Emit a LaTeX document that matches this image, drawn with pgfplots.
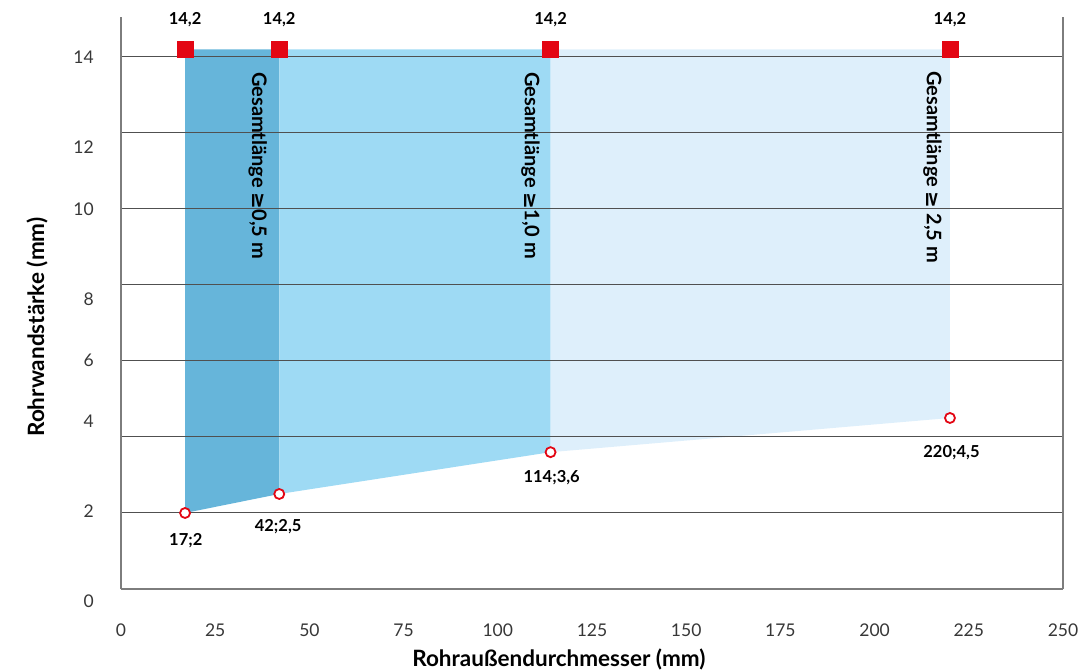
\documentclass[border=0pt]{standalone}
\usepackage{fontspec}
\setmainfont{Lato}
\newfontfamily\symfont{DejaVu Sans}
\usepackage{pgfplots}
\pgfplotsset{compat=1.18}

\definecolor{cdark}{RGB}{102,181,218}
\definecolor{cmid}{RGB}{158,218,244}
\definecolor{clight}{RGB}{222,239,251}
\definecolor{cred}{RGB}{227,6,19}
\definecolor{cgrid}{RGB}{80,80,80}
\definecolor{caxis}{RGB}{125,125,125}
\definecolor{ctick}{RGB}{55,55,55}

\begin{document}
\begin{tikzpicture}[
    lab/.style={font=\bfseries\fontsize{16.5}{18}\selectfont, inner sep=0pt},
    ylab/.style={font=\fontsize{17.5}{19}\selectfont, text=ctick, anchor=east, inner sep=0pt, xshift=-27pt},
    vlab/.style={rotate=-90, anchor=north west, inner sep=0pt, font=\bfseries\fontsize{20}{22}\selectfont},
]
\begin{axis}[
    name=ax, set layers, clip=false,
    scale only axis, width=942pt, height=572pt,
    xmin=0, xmax=250, ymin=0, ymax=15.05,
    axis x line*=bottom, axis y line*=box,
    xtick={0,25,...,250},
    ytick={2,4,...,14}, yticklabels={},
    major tick length=0pt,
    ymajorgrids, major grid style={cgrid, line width=1pt},
    axis line style={caxis, line width=1.8pt},
    tick label style={font=\fontsize{17.5}{19}\selectfont, text=ctick},
    xticklabel style={yshift=-31pt},
    /pgf/number format/assume math mode=true,
]
% areas
\addplot[on layer=axis background, fill=cdark, draw=none] coordinates {(17,2) (42,2.5) (42,14.2) (17,14.2) (17,2)};
\addplot[on layer=axis background, fill=cmid, draw=none] coordinates {(42,2.5) (114,3.6) (114,14.2) (42,14.2) (42,2.5)};
\addplot[on layer=axis background, fill=clight, draw=none] coordinates {(114,3.6) (220,4.5) (220,14.2) (114,14.2) (114,3.6)};

% points
\addplot[only marks, mark=square*, mark size=8pt, color=cred] coordinates {(17,14.2) (42,14.2) (114,14.2) (220,14.2)};
\addplot[only marks, mark=*, mark size=5pt, mark options={draw=cred, fill=white, line width=1.8pt}] coordinates {(17,2) (42,2.5) (114,3.6) (220,4.5)};

% value labels
\node[lab] at (axis cs:17,14.97) {14,2};
\node[lab] at (axis cs:42,14.97) {14,2};
\node[lab] at (axis cs:114,14.97) {14,2};
\node[lab] at (axis cs:220,14.97) {14,2};
\node[lab] at (axis cs:17.2,1.26) {17;2};
\node[lab] at (axis cs:41.7,1.63) {42;2,5};
\node[lab] at (axis cs:114.3,2.92) {114;3,6};
\node[lab] at (axis cs:220.4,3.58) {220;4,5};

\node[vlab] at (axis cs:38.8,13.6) {Gesamtlänge {\symfont ≥}0,5 m};
\node[vlab] at (axis cs:111.2,13.6) {Gesamtlänge {\symfont ≥}1,0 m};
\node[vlab] at (axis cs:217.9,13.62) {Gesamtlänge {\symfont ≥} 2,5 m};

% y tick labels (as placed in the original)
\node[ylab] at (axis cs:0,14) {14};
\node[ylab] at (axis cs:0,11.63) {12};
\node[ylab] at (axis cs:0,10) {10};
\node[ylab] at (axis cs:0,7.63) {8};
\node[ylab] at (axis cs:0,6.01) {6};
\node[ylab] at (axis cs:0,4.42) {4};
\node[ylab] at (axis cs:0,2.05) {2};
\node[ylab] at (axis cs:0,-0.33) {0};

% axis titles
\node[font=\bfseries\fontsize{22.5}{24}\selectfont, anchor=base] at (axis cs:116.2,-2.05) {Rohraußendurchmesser (mm)};
\node[font=\bfseries\fontsize{22.5}{24}\selectfont, rotate=90] at (axis cs:-22.3,6.89) {Rohrwandstärke (mm)};
\end{axis}
\pgfresetboundingbox
\path (ax.south west) ++(-121pt,-81pt) rectangle ++(1081pt,670pt);
\end{tikzpicture}
\end{document}
